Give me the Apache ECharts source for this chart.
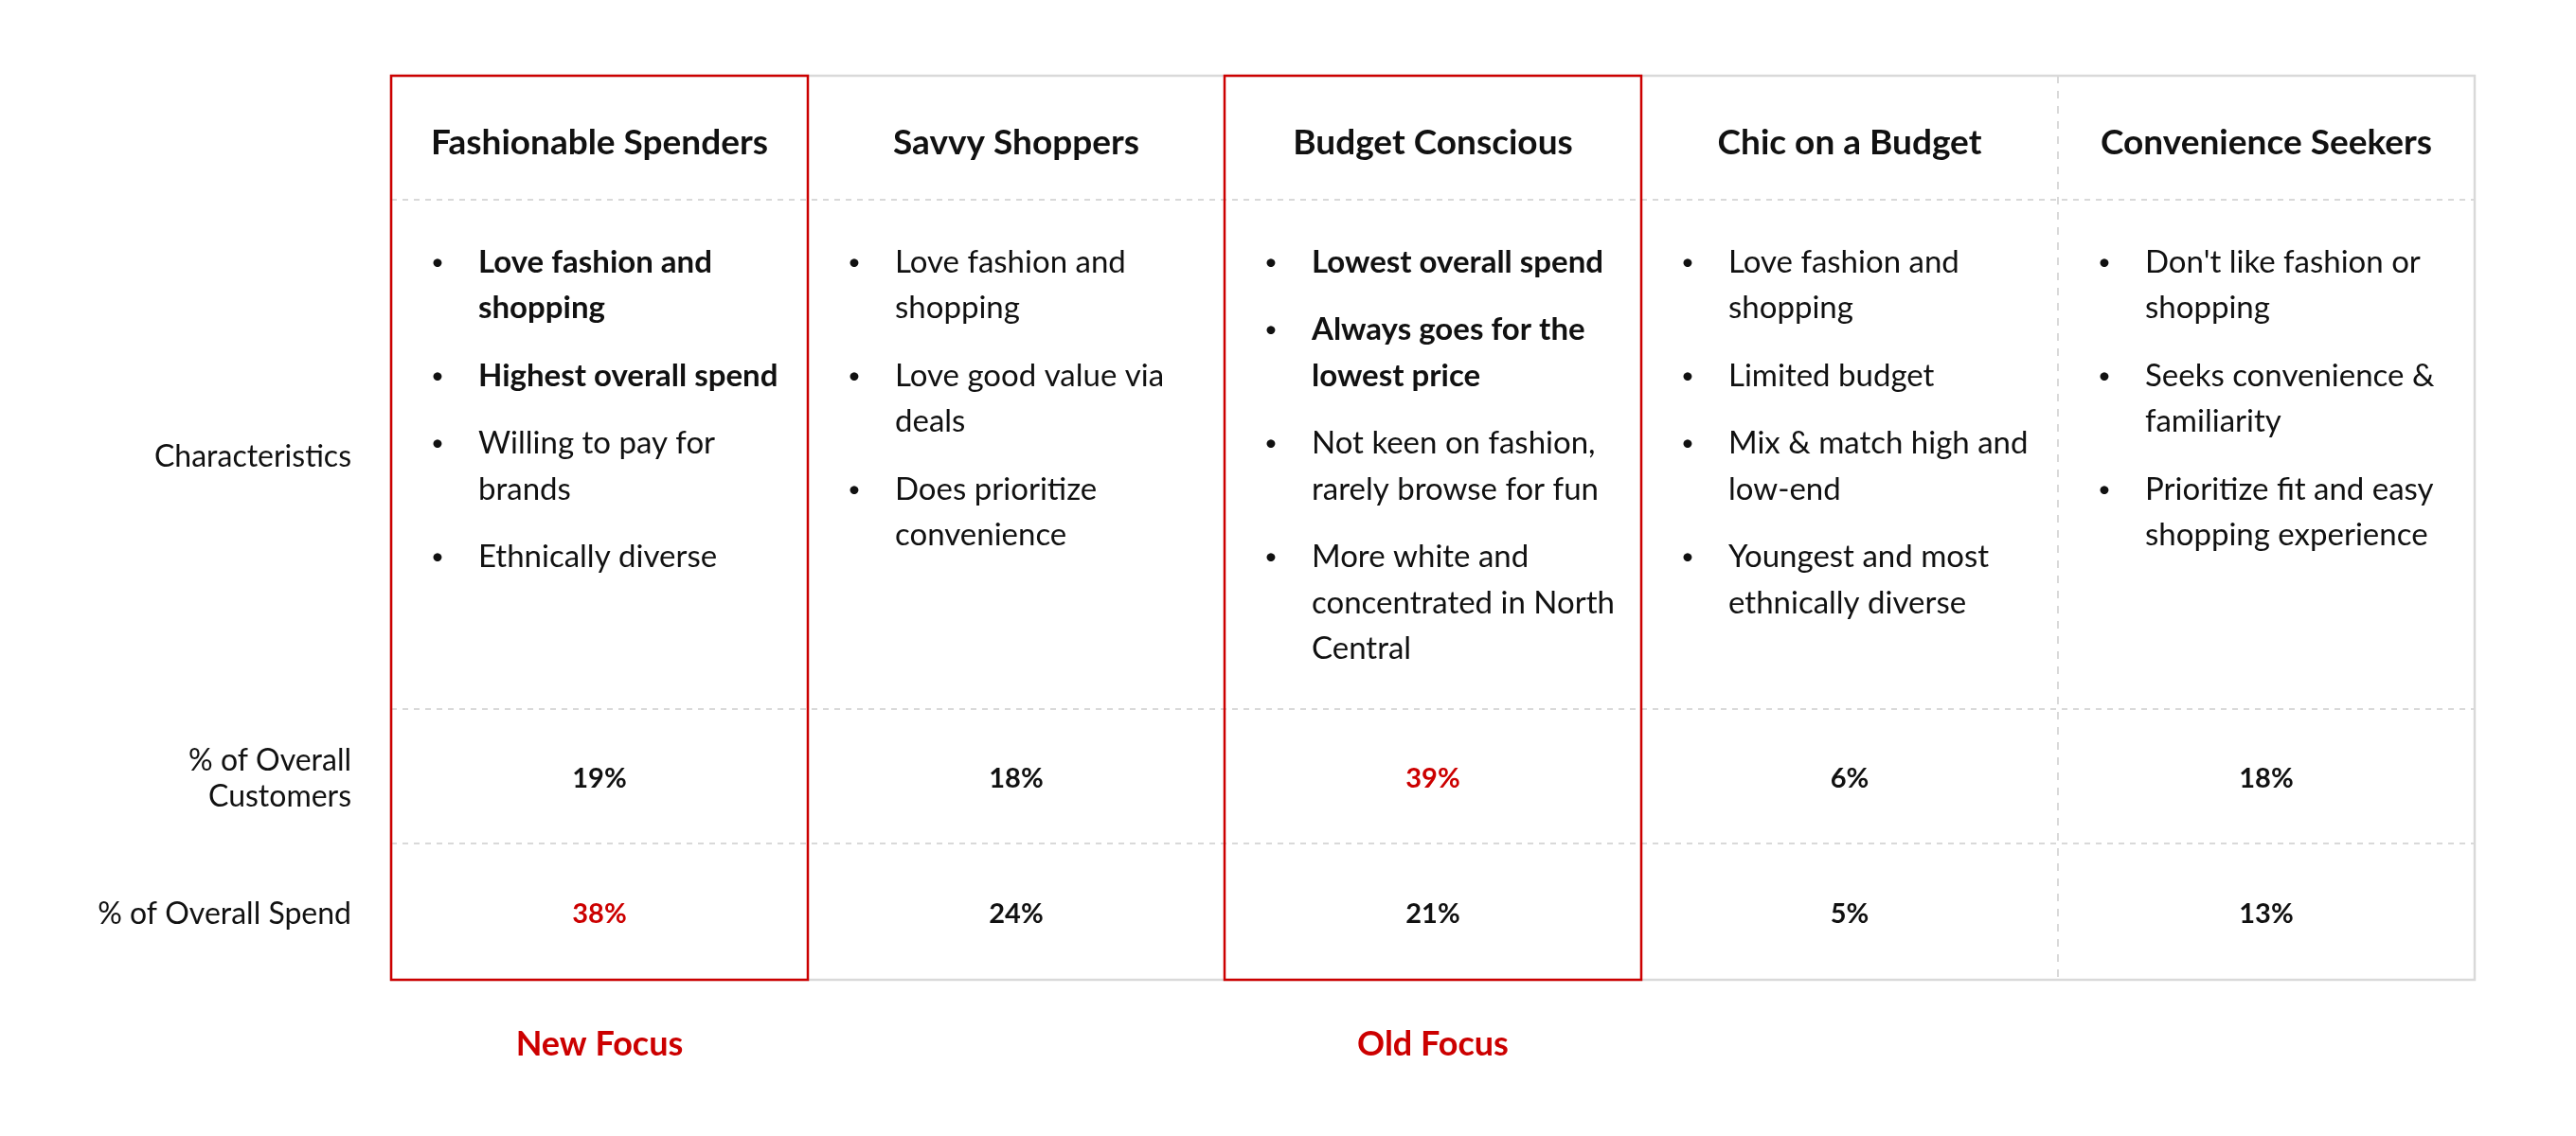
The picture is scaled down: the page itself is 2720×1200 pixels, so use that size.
<!DOCTYPE html>
<html><head><meta charset="utf-8">
<script src="https://cdn.jsdelivr.net/npm/echarts@6/dist/echarts.min.js"></script>
<style>html,body{margin:0;padding:0;background:#fff}#chart{width:2720px;height:1200px}</style>
</head><body><div id="chart"></div>
<script>
// ---------- data ----------
const segments = ['Fashionable Spenders', 'Savvy Shoppers', 'Budget Conscious', 'Chic on a Budget', 'Convenience Seekers'];
const rowLabels = ['Characteristics', '% of Overall\nCustomers', '% of Overall Spend'];
const characteristics = [
  ['Love fashion and\nshopping', 'Highest overall spend', 'Willing to pay for\nbrands', 'Ethnically diverse'],
  ['Love fashion and\nshopping', 'Love good value via\ndeals', 'Does prioritize\nconvenience'],
  ['Lowest overall spend', 'Always goes for the\nlowest price', 'Not keen on fashion,\nrarely browse for fun', 'More white and\nconcentrated in North\nCentral'],
  ['Love fashion and\nshopping', 'Limited budget', 'Mix & match high and\nlow-end', 'Youngest and most\nethnically diverse'],
  ["Don't like fashion or\nshopping", 'Seeks convenience &\nfamiliarity', 'Prioritize fit and easy\nshopping experience']
];
const boldBulletCount = [2, 0, 2, 0, 0];
const customersPct = [19, 18, 39, 6, 18];
const spendPct = [38, 24, 21, 5, 13];
const highlightCustomers = [false, false, true, false, false];
const highlightSpend = [true, false, false, false, false];
const focusLabels = ['New Focus', '', 'Old Focus', '', ''];

// ---------- layout / style ----------
const ROW_EDGES = [0, 131, 669, 811, 955];
const FONT = 'Lato, "Noto Sans", sans-serif';
const RED = '#cc0000';
const INK = '#111111';
const LINE = '#d9d9d9';
const DY = 3;

function txt(text, x, y, opt) {
  return {
    type: 'text',
    style: Object.assign({
      text: text, x: x, y: y + DY, fill: INK,
      font: '400 32px ' + FONT,
      textAlign: 'center', textVerticalAlign: 'middle',
      align: 'center', verticalAlign: 'middle'
    }, opt || {})
  };
}
function colBox(api, col, r0, r1) {
  const bw = api.size([1, 0])[0];
  const p0 = api.coord([col, ROW_EDGES[r0]]);
  const p1 = api.coord([col, ROW_EDGES[r1]]);
  return { x: p0[0] - bw / 2, y: p0[1], w: bw, h: p1[1] - p0[1], cx: p0[0] };
}

const chart = echarts.init(document.getElementById('chart'), null, { renderer: 'canvas' });

const option = {
  backgroundColor: '#ffffff',
  animation: false,
  grid: { left: 413, top: 80, width: 2200, height: 955 },
  xAxis: { type: 'category', data: segments, show: false, boundaryGap: true },
  yAxis: { type: 'value', min: 0, max: 955, inverse: true, show: false },
  series: [
    // frame
    {
      type: 'custom', z: 1, silent: true,
      data: [[0, 0]],
      renderItem: function (params, api) {
        const first = colBox(api, 0, 0, 4);
        const n = segments.length;
        const bw = first.w;
        const children = [];
        for (let r = 1; r < ROW_EDGES.length - 1; r++) {
          const y = api.coord([0, ROW_EDGES[r]])[1];
          children.push({ type: 'line', shape: { x1: first.x, y1: y, x2: first.x + bw * n, y2: y },
            style: { stroke: LINE, lineWidth: 2, lineDash: [6, 6] } });
        }
        for (let c = 1; c < n; c++) {
          const x = first.x + bw * c;
          children.push({ type: 'line', shape: { x1: x, y1: first.y, x2: x, y2: first.y + first.h },
            style: { stroke: LINE, lineWidth: 2, lineDash: [8, 8] } });
        }
        children.push({ type: 'rect', shape: { x: first.x, y: first.y, width: bw * n, height: first.h },
          style: { fill: null, stroke: LINE, lineWidth: 2.5 } });
        return { type: 'group', children: children };
      }
    },
    // headers
    {
      type: 'custom', z: 3,
      data: segments.map(function (s, i) { return [i, 0]; }),
      renderItem: function (params, api) {
        const b = colBox(api, api.value(0), 0, 1);
        return txt(segments[params.dataIndex], b.cx, b.y + b.h / 2 + 3, { font: '700 37px ' + FONT });
      }
    },
    // characteristics bullets
    {
      type: 'custom', z: 3,
      data: characteristics.map(function (c, i) { return [i, 1]; }),
      renderItem: function (params, api) {
        const i = params.dataIndex;
        const b = colBox(api, api.value(0), 1, 2);
        const children = [];
        let y = b.y + 63;
        characteristics[i].forEach(function (item, k) {
          const bold = k < boldBulletCount[i];
          const f = (bold ? '700 33px ' : '400 33px ') + FONT;
          children.push(txt('\u2022', b.x + 49, y, { font: '400 24px ' + FONT }));
          item.split('\n').forEach(function (line, li) {
            if (li > 0) y += 48.5;
            children.push(txt(line, b.x + 92, y, { font: f, textAlign: 'left', align: 'left' }));
          });
          y += 48.5 + 23;
        });
        return { type: 'group', children: children };
      }
    },
    // % of overall customers
    {
      type: 'custom', z: 3,
      data: customersPct.map(function (v, i) { return [i, v]; }),
      renderItem: function (params, api) {
        const i = params.dataIndex;
        const b = colBox(api, api.value(0), 2, 3);
        return txt(api.value(1) + '%', b.cx, b.y + b.h / 2, {
          font: '700 29px ' + FONT, fill: highlightCustomers[i] ? RED : INK });
      }
    },
    // % of overall spend
    {
      type: 'custom', z: 3,
      data: spendPct.map(function (v, i) { return [i, v]; }),
      renderItem: function (params, api) {
        const i = params.dataIndex;
        const b = colBox(api, api.value(0), 3, 4);
        return txt(api.value(1) + '%', b.cx, b.y + b.h / 2, {
          font: '700 29px ' + FONT, fill: highlightSpend[i] ? RED : INK });
      }
    },
    // row labels
    {
      type: 'custom', z: 3,
      data: rowLabels.map(function (l, i) { return [0, i]; }),
      renderItem: function (params, api) {
        const r = params.dataIndex + 1;
        const b = colBox(api, 0, r, r + 1);
        return txt(rowLabels[params.dataIndex], b.x - 42, b.y + b.h / 2, {
          textAlign: 'right', align: 'right', lineHeight: 38 });
      }
    },
    // focus boxes and labels
    {
      type: 'custom', z: 5,
      data: focusLabels.map(function (l, i) { return [i, 0]; }).filter(function (d) { return focusLabels[d[0]] !== ''; }),
      renderItem: function (params, api) {
        const col = api.value(0);
        const b = colBox(api, col, 0, 4);
        return {
          type: 'group',
          children: [
            { type: 'rect', shape: { x: b.x, y: b.y, width: b.w, height: b.h },
              style: { fill: null, stroke: RED, lineWidth: 2.5 } },
            txt(focusLabels[col], b.cx, b.y + b.h + 65, { font: '700 36px ' + FONT, fill: RED })
          ]
        };
      }
    }
  ]
};
chart.setOption(option);
</script>
</body></html>
